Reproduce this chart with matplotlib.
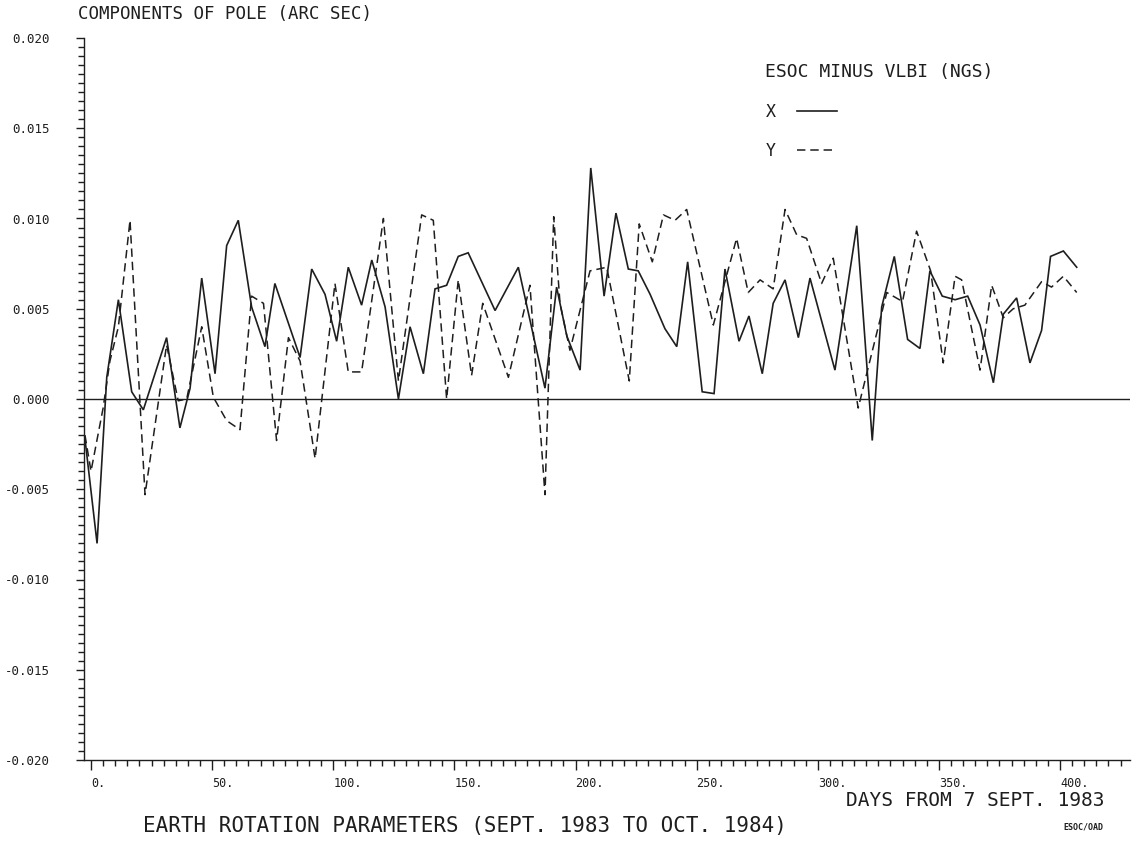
import numpy as np
import matplotlib
matplotlib.use('Agg')
import matplotlib.pyplot as plt
from matplotlib.ticker import MultipleLocator, FuncFormatter
from matplotlib.lines import Line2D

plt.rcParams['font.family'] = ['DejaVu Sans Mono']

# ESOC minus VLBI (NGS), components of pole in arc sec, vs days from 7 Sept 1983
x_days = [-2.5, 2.5, 6.5, 11.3, 16.8, 21.6, 31.2, 36.7, 40.9, 45.7, 51.2, 56.0, 60.8,
          66.3, 71.8, 75.9, 86.3, 91.1, 96.6, 101.4, 106.2, 111.7, 115.9, 121.4, 126.9,
          131.7, 137.2, 142.0, 146.8, 151.6, 155.7, 166.8, 176.4, 187.4, 192.2, 196.4,
          201.9, 206.3, 211.8, 216.7, 221.8, 225.9, 230.8, 236.9, 241.8, 246.3, 252.3,
          257.2, 261.7, 267.5, 271.6, 277.1, 281.6, 286.5, 292.0, 296.8, 307.1, 316.1,
          322.5, 326.4, 331.6, 337.1, 342.2, 346.3, 351.4, 356.7, 361.9, 367.0, 372.5,
          376.6, 382.1, 387.6, 392.4, 396.1, 401.4, 406.9]
x_pole = [-0.0022, -0.0080, 0.0012, 0.0055, 0.0004, -0.0006, 0.0034, -0.0016, 0.0006,
          0.0067, 0.0014, 0.0085, 0.0099, 0.0051, 0.0029, 0.0064, 0.0023, 0.0072, 0.0058,
          0.0032, 0.0073, 0.0052, 0.0077, 0.0051, 0.0000, 0.0040, 0.0014, 0.0061, 0.0063,
          0.0079, 0.0081, 0.0049, 0.0073, 0.0006, 0.0062, 0.0035, 0.0016, 0.0128, 0.0057,
          0.0103, 0.0072, 0.0071, 0.0058, 0.0039, 0.0029, 0.0076, 0.0004, 0.0003, 0.0072,
          0.0032, 0.0046, 0.0014, 0.0053, 0.0066, 0.0034, 0.0067, 0.0016, 0.0096, -0.0023,
          0.0051, 0.0079, 0.0033, 0.0028, 0.0071, 0.0057, 0.0055, 0.0057, 0.0041, 0.0009,
          0.0047, 0.0056, 0.0020, 0.0038, 0.0079, 0.0082, 0.0073]

y_days = [-2.5, 0.0, 5.0, 7.8, 11.3, 16.1, 22.3, 31.2, 36.0, 39.5, 45.7, 50.5, 56.0, 61.5,
          66.3, 71.2, 76.6, 81.5, 86.3, 92.5, 100.7, 106.2, 111.7, 120.7, 126.9, 136.5,
          141.3, 146.8, 151.6, 157.1, 161.7, 172.3, 181.2, 187.4, 191.0, 193.6, 197.7,
          206.0, 212.9, 222.2, 226.3, 231.7, 236.3, 241.1, 245.9, 256.9, 266.5, 271.3,
          276.2, 281.6, 286.5, 291.3, 295.4, 301.6, 306.4, 316.7, 328.5, 335.0, 340.8,
          346.6, 351.8, 356.7, 359.4, 367.0, 371.8, 376.6, 380.7, 385.5, 392.4, 396.5,
          401.4, 406.9]
y_pole = [-0.0020, -0.0040, -0.0005, 0.0021, 0.0040, 0.0099, -0.0053, 0.0030, -0.0001,
          0.0000, 0.0040, 0.0001, -0.0012, -0.0017, 0.0057, 0.0053, -0.0023, 0.0034, 0.0021,
          -0.0033, 0.0064, 0.0015, 0.0015, 0.0100, 0.0010, 0.0102, 0.0099, 0.0000, 0.0066,
          0.0013, 0.0053, 0.0012, 0.0063, -0.0053, 0.0101, 0.0053, 0.0027, 0.0071, 0.0073,
          0.0010, 0.0097, 0.0076, 0.0102, 0.0099, 0.0105, 0.0041, 0.0089, 0.0059, 0.0066,
          0.0061, 0.0105, 0.0091, 0.0089, 0.0064, 0.0078, -0.0005, 0.0059, 0.0054, 0.0093,
          0.0071, 0.0020, 0.0068, 0.0066, 0.0016, 0.0063, 0.0045, 0.0050, 0.0052, 0.0065,
          0.0062, 0.0068, 0.0059]

W, H = 1134, 841
def fx(px):
    return px / W
def fy(py):
    return 1 - py / H

ink = '#1e1e1e'
fig = plt.figure(figsize=(W / 100, H / 100), dpi=100)
ax = fig.add_axes([fx(83.5), fy(760), fx(1130) - fx(83.5), fy(38) - fy(760)])

ax.plot(x_days, x_pole, color=ink, lw=1.2, solid_joinstyle='miter')
ax.plot(y_days, y_pole, color=ink, lw=1.1, linestyle=(0, (5.5, 3.2)))
ax.axhline(0, color=ink, lw=1.0)

ax.set_xlim(-3.1, 428.9)
ax.set_ylim(-0.020, 0.020)
for s in ['top', 'right']:
    ax.spines[s].set_visible(False)
for s in ['left', 'bottom']:
    ax.spines[s].set_linewidth(1.0)
    ax.spines[s].set_color(ink)

ax.xaxis.set_major_locator(MultipleLocator(50))
ax.xaxis.set_minor_locator(MultipleLocator(5))
ax.yaxis.set_major_locator(MultipleLocator(0.005))
ax.yaxis.set_minor_locator(MultipleLocator(0.0005))
ax.xaxis.set_major_formatter(FuncFormatter(lambda v, p: '%d.' % round(v)))
ax.yaxis.set_major_formatter(FuncFormatter(lambda v, p: '%.3f' % (0.0 if abs(v) < 1e-9 else v)))

ax.tick_params(axis='x', which='major', direction='out', length=7, width=1, pad=5,
               labelsize=8.5, colors=ink)
ax.tick_params(axis='x', which='minor', direction='out', length=4, width=1, colors=ink)
ax.tick_params(axis='y', which='major', direction='out', length=6, width=1, pad=18,
               labelsize=9, colors=ink)
ax.tick_params(axis='y', which='minor', direction='out', length=4, width=1, colors=ink)
plt.setp(ax.get_xticklabels(), ha='left')

# texts
fig.text(fx(78), fy(14), 'COMPONENTS OF POLE (ARC SEC)', fontsize=12.5, color=ink,
         ha='left', va='center')
fig.text(fx(1105), fy(800), 'DAYS FROM 7 SEPT. 1983', fontsize=14, color=ink,
         ha='right', va='center')
fig.text(fx(465), fy(826), 'EARTH ROTATION PARAMETERS (SEPT. 1983 TO OCT. 1984)',
         fontsize=15, color=ink, ha='center', va='center')
fig.text(fx(1103), fy(827), 'ESOC/OAD', fontsize=6, fontweight='bold', color=ink,
         ha='right', va='center')

# legend
fig.text(fx(765), fy(72), 'ESOC MINUS VLBI (NGS)', fontsize=13, color=ink,
         ha='left', va='center')
fig.text(fx(766), fy(112), 'X', fontsize=12, color=ink, ha='left', va='center')
fig.text(fx(766), fy(151), 'Y', fontsize=12, color=ink, ha='left', va='center')
fig.add_artist(Line2D([fx(797), fx(837)], [fy(111), fy(111)], transform=fig.transFigure,
                      color=ink, lw=1.2))
fig.add_artist(Line2D([fx(797), fx(835)], [fy(150), fy(150)], transform=fig.transFigure,
                      color=ink, lw=1.1, linestyle=(0, (5.5, 3.2))))

fig.savefig('out.png', dpi=100, facecolor='white')
